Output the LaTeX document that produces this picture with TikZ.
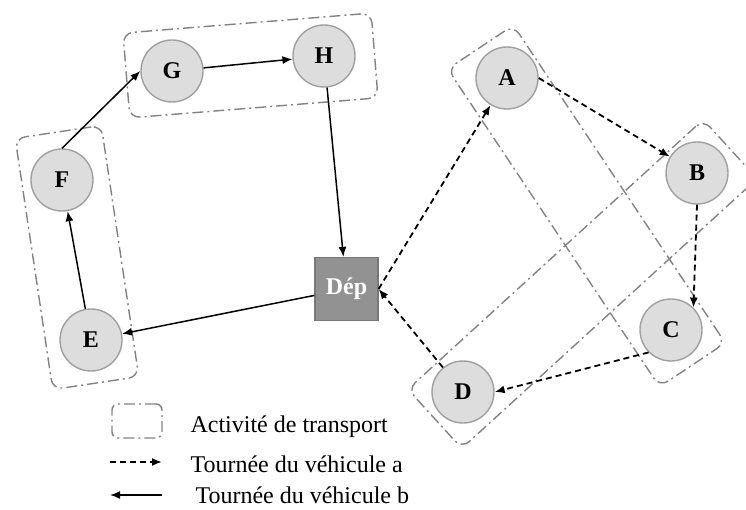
\documentclass[tikz,border=0pt]{standalone}
\usepackage{fontspec}
\setmainfont{Liberation Serif}
\usetikzlibrary{arrows.meta, positioning}
\definecolor{nodefill}{RGB}{221,221,221}
\definecolor{nodeedge}{RGB}{160,160,160}
\definecolor{depotfill}{RGB}{146,146,146}
\definecolor{depotedge}{RGB}{120,120,120}
\definecolor{boxgray}{RGB}{130,130,130}

\begin{document}
\begin{tikzpicture}[x=1pt, y=1pt,
  client/.style={circle, draw=nodeedge, fill=nodefill, line width=1.4pt, minimum size=62pt, inner sep=0pt, font=\fontsize{24}{28}\selectfont\bfseries},
  depot/.style={rectangle, draw=depotedge, fill=depotfill, line width=1.2pt, minimum size=63pt, inner sep=0pt, text=white, font=\fontsize{24}{28}\selectfont\bfseries},
  activity/.style={draw=boxgray, rounded corners=10pt, line width=1.4pt, dash pattern=on 11pt off 4pt on 2pt off 4pt, inner sep=0pt},
  tourA/.style={-{Latex[length=10pt,width=8pt]}, line width=1.8pt, dash pattern=on 6pt off 4pt},
  tourB/.style={-{Latex[length=10pt,width=8pt]}, line width=1.5pt},
  legend/.style={anchor=base west, font=\fontsize{24}{28}\selectfont}]
  \useasboundingbox (0,0) rectangle (746,509);

  % Transport activities
  \node[activity, minimum width=249pt, minimum height=85pt, rotate=4.6] (actGH) at (250.5,443.5) {};
  \node[activity, minimum width=87pt, minimum height=254pt, rotate=8.5] (actEF) at (77,251.5) {};
  \node[activity, minimum width=382pt, minimum height=79pt, rotate=-56.3] (actAC) at (586.5,303) {};
  \node[activity, minimum width=400pt, minimum height=80pt, rotate=42.4] (actBD) at (582.5,225) {};

  % Depot and customers
  \node[depot] (Dep) at (346.5,220) {Dép};
  \node[client] (A) at (507,431) {A};
  \node[client] (B) at (697,336) {B};
  \node[client] (C) at (671,179) {C};
  \node[client] (D) at (463,117) {D};
  \node[client] (E) at (91,169) {E};
  \node[client] (F) at (62,329) {F};
  \node[client] (G) at (172,438) {G};
  \node[client] (H) at (324,453) {H};

  % Vehicle a
  \draw[tourA] (Dep.east) -- (A);
  \draw[tourA] (A.east) -- (B);
  \draw[tourA] (B.south) -- (C.north east);
  \draw[tourA] (C.south west) -- (D.east);
  \draw[tourA] (D) -- (Dep.east);

  % Vehicle b
  \draw[tourB] (Dep) -- (E);
  \draw[tourB] (E) -- (F);
  \draw[tourB] (F.north) -- (G.west);
  \draw[tourB] (G) -- (H);
  \draw[tourB] (H) -- (Dep);

  % Legend
  \node[activity, rounded corners=6pt, minimum width=50pt, minimum height=34pt] (legAct) at (137,88) {};
  \coordinate (legAstart) at (110,47);
  \coordinate (legAend) at (162,47);
  \coordinate (legBstart) at (162,14);
  \coordinate (legBend) at (110,14);
  \draw[tourA] (legAstart) -- (legAend);
  \draw[tourB] (legBstart) -- (legBend);
  \node[legend] (txtAct) at (187,77) {Activité de transport};
  \node[legend] (txtA) at (187,37) {Tournée du véhicule a};
  \node[legend] (txtB) at (192,6) {Tournée du véhicule b};
\end{tikzpicture}
\end{document}
